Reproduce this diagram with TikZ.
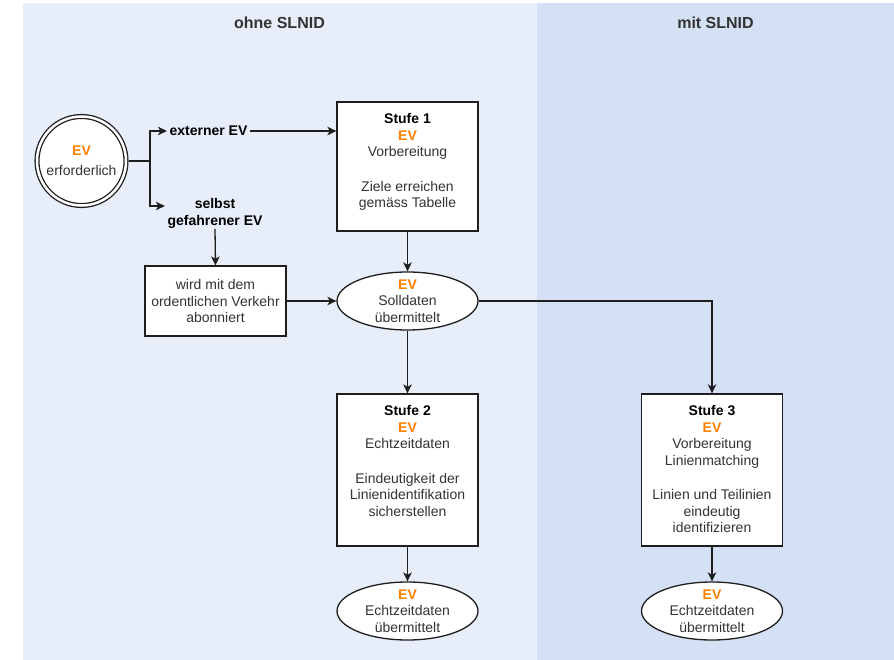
\documentclass[tikz,border=0pt]{standalone}
\usepackage{fontspec}
\setmainfont{Liberation Sans}
\usetikzlibrary{arrows.meta, shapes.geometric}

\definecolor{panelleft}{RGB}{231,238,249}
\definecolor{panelright}{RGB}{212,225,245}
\definecolor{evorange}{RGB}{255,128,0}
\definecolor{txtgray}{RGB}{51,51,51}
\definecolor{linegray}{RGB}{30,30,30}

\newcommand{\evmark}{\textcolor{evorange}{\textbf{EV}}}
\newcommand{\stufemark}[1]{\textcolor{black}{\textbf{Stufe #1}}}

\begin{document}
\begin{tikzpicture}[x = 1pt, y = -1pt, line width = 1.3pt, > = {Stealth[length = 9pt, width = 8.5pt, inset = 2.5pt]},
	txt/.style = {align = center, inner sep = 0pt, text = txtgray, font = \fontsize{14pt}{16.5pt}\selectfont},
	lbl/.style = {txt, inner xsep = 2pt, text = black, font = \fontsize{14pt}{16.5pt}\selectfont\bfseries},
	head/.style = {text = txtgray, font = \fontsize{16pt}{19pt}\selectfont\bfseries},
	stepbox/.style = {draw = linegray, fill = white, minimum width = 141pt, minimum height = #1, inner sep = 0pt},
	oval/.style = {ellipse, draw = linegray, fill = white, minimum width = 141pt, minimum height = 58pt, inner sep = 0pt},
	startcircle/.style = {circle, draw = linegray, fill = white, double, double distance = 2.5pt, minimum size = 89pt},
	wire/.style = {draw = linegray}]
\useasboundingbox (0, 0) rectangle (894, 660);

\fill [panelleft] (22.7, 3) rectangle (537, 660);
\fill [panelright] (537, 3) rectangle (894, 660);

\node [head] (ohne) at (279.5, 23) {ohne SLNID};
\node [head] (mit) at (715.5, 23) {mit SLNID};

\node [startcircle, txt] (start) at (81.5, 161) {\evmark\\[3pt] erforderlich};
\coordinate (branch) at (150, 161);

\node [lbl] (ext) at (208.5, 131) {externer EV};
\node [lbl] (sgev) at (215, 213.5) {selbst\\ gefahrener EV};

\node [stepbox = 70pt, txt] (abo) at (215.5, 301) {wird mit dem\\ ordentlichen Verkehr\\ abonniert};

\node [stepbox = 129pt] (stufe1) at (407.5, 166.5) {};
\node [txt, anchor = north] (stufe1txt) at ([yshift = -11.5pt] stufe1.north) {\stufemark{1}\\ \evmark\\ Vorbereitung\\[18pt] Ziele erreichen\\ gemäss Tabelle};

\node [oval] (soll) at (407.5, 301) {};
\node [txt] (solltxt) at (soll) {\evmark\\ Solldaten\\ übermittelt};

\node [stepbox = 152pt] (stufe2) at (407.5, 470) {};
\node [txt, anchor = north] (stufe2txt) at ([yshift = -11.5pt] stufe2.north) {\stufemark{2}\\ \evmark\\ Echtzeitdaten\\[18pt] Eindeutigkeit der\\ Linienidentifikation\\ sicherstellen};

\node [stepbox = 152pt] (stufe3) at (712, 470) {};
\node [txt, anchor = north] (stufe3txt) at ([yshift = -11.5pt] stufe3.north) {\stufemark{3}\\ \evmark\\ Vorbereitung\\ Linienmatching\\[18pt] Linien und Teilinien\\ eindeutig\\ identifizieren};

\node [oval] (echt2) at (407.5, 611) {};
\node [txt] (echt2txt) at (echt2) {\evmark\\ Echtzeitdaten\\ übermittelt};

\node [oval] (echt3) at (712, 611) {};
\node [txt] (echt3txt) at (echt3) {\evmark\\ Echtzeitdaten\\ übermittelt};

\draw [wire, shorten <= 2.4pt] (start.east) -- (branch);
\draw [wire, ->] (branch) |- (ext.west);
\draw [wire, ->] (branch) |- ([yshift = 7.5pt] sgev.west);
\draw [wire, ->] (ext.east) -- (ext.east -| stufe1.west);
\draw [wire, ->] (sgev.south) -- (abo.north);
\draw [wire, ->] (abo.east) -- (soll.west);
\draw [wire, ->] (stufe1.south) -- (soll.north);
\draw [wire, ->] (soll.south) -- (stufe2.north);
\draw [wire, ->] (soll.east) -| (stufe3.north);
\draw [wire, ->] (stufe2.south) -- (echt2.north);
\draw [wire, ->] (stufe3.south) -- (echt3.north);
\end{tikzpicture}
\end{document}
